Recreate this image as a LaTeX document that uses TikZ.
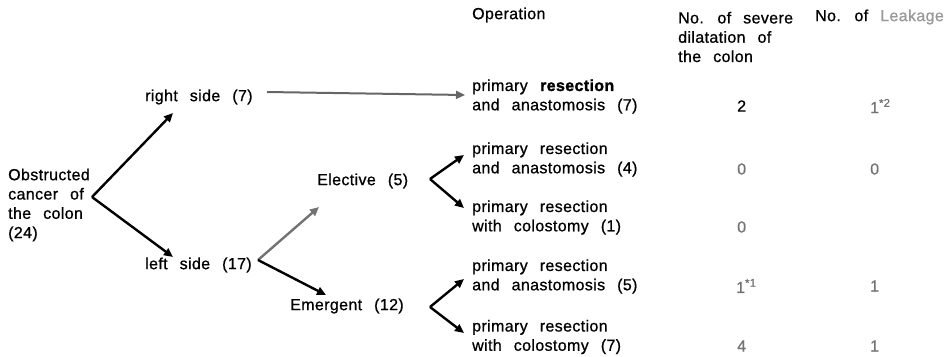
\documentclass[tikz,border=0pt]{standalone}
\usepackage{fontspec}
\setmainfont{Liberation Sans}[LetterSpace=2.3,WordSpace=2.5,FakeBold=0.8,BoldFeatures={FakeBold=1.5}]
\usetikzlibrary{arrows.meta}

\tikzset{
  lbl/.style={anchor=west, inner sep=0pt, align=left, font=\fontsize{16}{19.3}\selectfont},
  val/.style={anchor=west, inner sep=0pt, font=\fontsize{16}{19}\selectfont, text=black!55},
  br/.style={line width=2.4pt, -{Triangle[length=9pt,width=8pt]}},
}

\begin{document}
\begin{tikzpicture}[x=1pt,y=1pt,yscale=-1]
\useasboundingbox (0,0) rectangle (949,356);

% Text Node
\node[lbl] (oper) at (472,15) {Operation};
% Text Node
\node[lbl] (dilat) at (678,37) {No. of severe\\dilatation of\\the colon};
% Text Node
\node[lbl] (leak) at (815,17) {No. of \textcolor{black!40}{Leakage}};

% Text Node
\node[lbl] (root) at (8,205) {Obstructed\\cancer of\\the colon\\(24)};
% Text Node
\node[lbl] (rside) at (145,97) {right side (7)};
% Text Node
\node[lbl] (lside) at (145,265) {left side (17)};
% Text Node
\node[lbl] (elect) at (317,181) {Elective (5)};
% Text Node
\node[lbl] (emerg) at (290,306) {Emergent (12)};

% Text Node
\node[lbl] (opA) at (472,96.5) {primary \textbf{resection}\\and anastomosis (7)};
% Text Node
\node[lbl] (opB) at (472,159.5) {primary resection\\and anastomosis (4)};
% Text Node
\node[lbl] (opC) at (472,217.5) {primary resection\\with colostomy (1)};
% Text Node
\node[lbl] (opD) at (472,276.5) {primary resection\\and anastomosis (5)};
% Text Node
\node[lbl] (opE) at (472,337) {primary resection\\with colostomy (7)};

% Text Node
\node[val,text=black] (dilA) at (737,106) {2};
\node[val] (dilB) at (737,169) {0};
\node[val] (dilC) at (737,227) {0};
\node[val] (dilD) at (736,286) {1\textsuperscript{*1}};
\node[val] (dilE) at (737,346) {4};
% Text Node
\node[val] (lkA) at (870,106) {1\textsuperscript{*2}};
\node[val] (lkB) at (870,169) {0};
\node[val] (lkD) at (870,286) {1};
\node[val] (lkE) at (870,346) {1};

%Straight Lines
\coordinate (rootV) at (92,197);
\coordinate (rsideT) at (173,113);
\coordinate (lsideT) at (173,257);
\draw[br] (rootV) -- (rsideT);
\draw[br] (rootV) -- (lsideT);

%Straight Lines
\coordinate (rsideE) at (267,92);
\coordinate (opAT) at (465,95);
\draw[br,line width=2pt,black!60] (rsideE) -- (opAT);

%Straight Lines
\coordinate (lsideV) at (258,260);
\coordinate (electT) at (319,207);
\coordinate (emergT) at (326,295);
\draw[br,black!55] (lsideV) -- (electT);
\draw[br] (lsideV) -- (emergT);

%Straight Lines
\coordinate (electV) at (430,179);
\coordinate (opBT) at (464,155);
\coordinate (opCT) at (464,208);
\draw[br] (electV) -- (opBT);
\draw[br] (electV) -- (opCT);

%Straight Lines
\coordinate (emergV) at (430,307);
\coordinate (opDT) at (464,279);
\coordinate (opET) at (464,333);
\draw[br] (emergV) -- (opDT);
\draw[br] (emergV) -- (opET);

\end{tikzpicture}
\end{document}
